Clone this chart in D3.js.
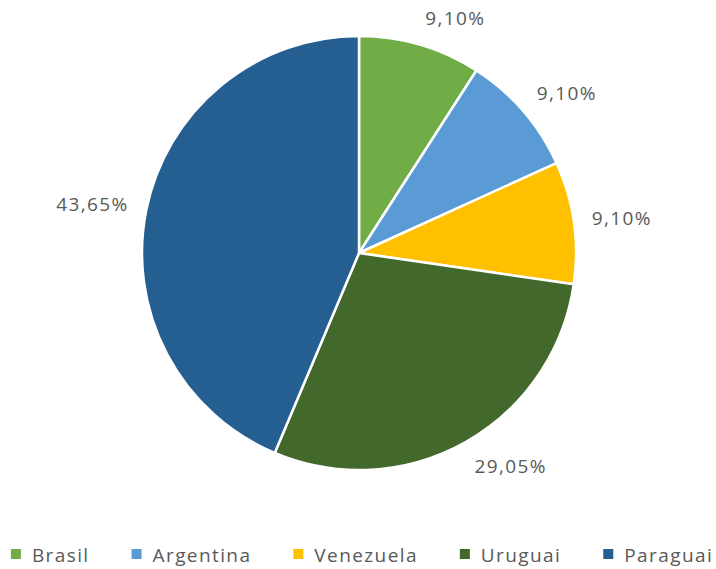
<!DOCTYPE html>
<html lang="pt">
<head>
  <meta charset="UTF-8">
  <title>Pie</title>
  <script src="https://d3js.org/d3.v7.min.js"></script>
  <style>
    body { margin: 0; background: #fff; }
    text { font-family: "Open Sans", sans-serif; fill: #595959; letter-spacing: 1.4px; }
  </style>
</head>
<body>
  <div id="chart"></div>
  <script>
    // Data
    const countries = ["Brasil", "Argentina", "Venezuela", "Uruguai", "Paraguai"];
    const shares = [9.10, 9.10, 9.10, 29.05, 43.65];
    const colors = ["#70AD47", "#5B9BD5", "#FFC000", "#43682B", "#255E91"];

    const width = 716, height = 569;
    const cx = 359, cy = 253, r = 217;

    const svg = d3.select("#chart").append("svg")
        .attr("width", width)
        .attr("height", height);

    const pie = d3.pie().sort(null).value(d => d.value);
    const arcs = pie(countries.map((c, i) => ({ name: c, value: shares[i], color: colors[i] })));
    const arc = d3.arc().innerRadius(0).outerRadius(r);

    const g = svg.append("g").attr("transform", `translate(${cx},${cy})`);

    g.selectAll("path")
      .data(arcs)
      .join("path")
        .attr("d", arc)
        .attr("fill", d => d.data.color)
        .attr("stroke", "#fff")
        .attr("stroke-width", 2.5)
        .attr("stroke-linejoin", "round");

    // labels outside the pie, text box pushed out from the mid angle point
    const fmt = v => v.toFixed(2).replace(".", ",") + "%";
    const labels = g.selectAll("text.lbl")
      .data(arcs)
      .join("text")
        .attr("class", "lbl")
        .attr("font-size", 19)
        .attr("text-anchor", "middle")
        .text(d => fmt(d.data.value));

    labels.each(function(d) {
      const a = (d.startAngle + d.endAngle) / 2;
      const w = this.getComputedTextLength();
      const h = 20;
      const x = Math.sin(a) * (r + 18) + Math.sign(Math.sin(a)) * w / 2;
      const y = -Math.cos(a) * (r + 18) - Math.cos(a) * h / 2;
      d3.select(this).attr("x", x).attr("y", y + 7);
    });

    // Legend
    const legend = svg.append("g");
    const items = legend.selectAll("g")
      .data(arcs)
      .join("g");

    items.append("rect")
        .attr("width", 10)
        .attr("height", 10)
        .attr("y", 549)
        .attr("fill", d => d.data.color);

    items.append("text")
        .attr("x", 21)
        .attr("y", 562)
        .attr("font-size", 19)
        .text(d => d.data.name);

    let xpos = 0;
    const gap = 42;
    items.each(function() {
      const tw = d3.select(this).select("text").node().getComputedTextLength();
      d3.select(this).attr("transform", `translate(${xpos},0)`);
      xpos += 21 + tw + gap;
    });
    const total = xpos - gap;
    legend.attr("transform", `translate(${(width - total) / 2 + 4},0)`);
  </script>
</body>
</html>
